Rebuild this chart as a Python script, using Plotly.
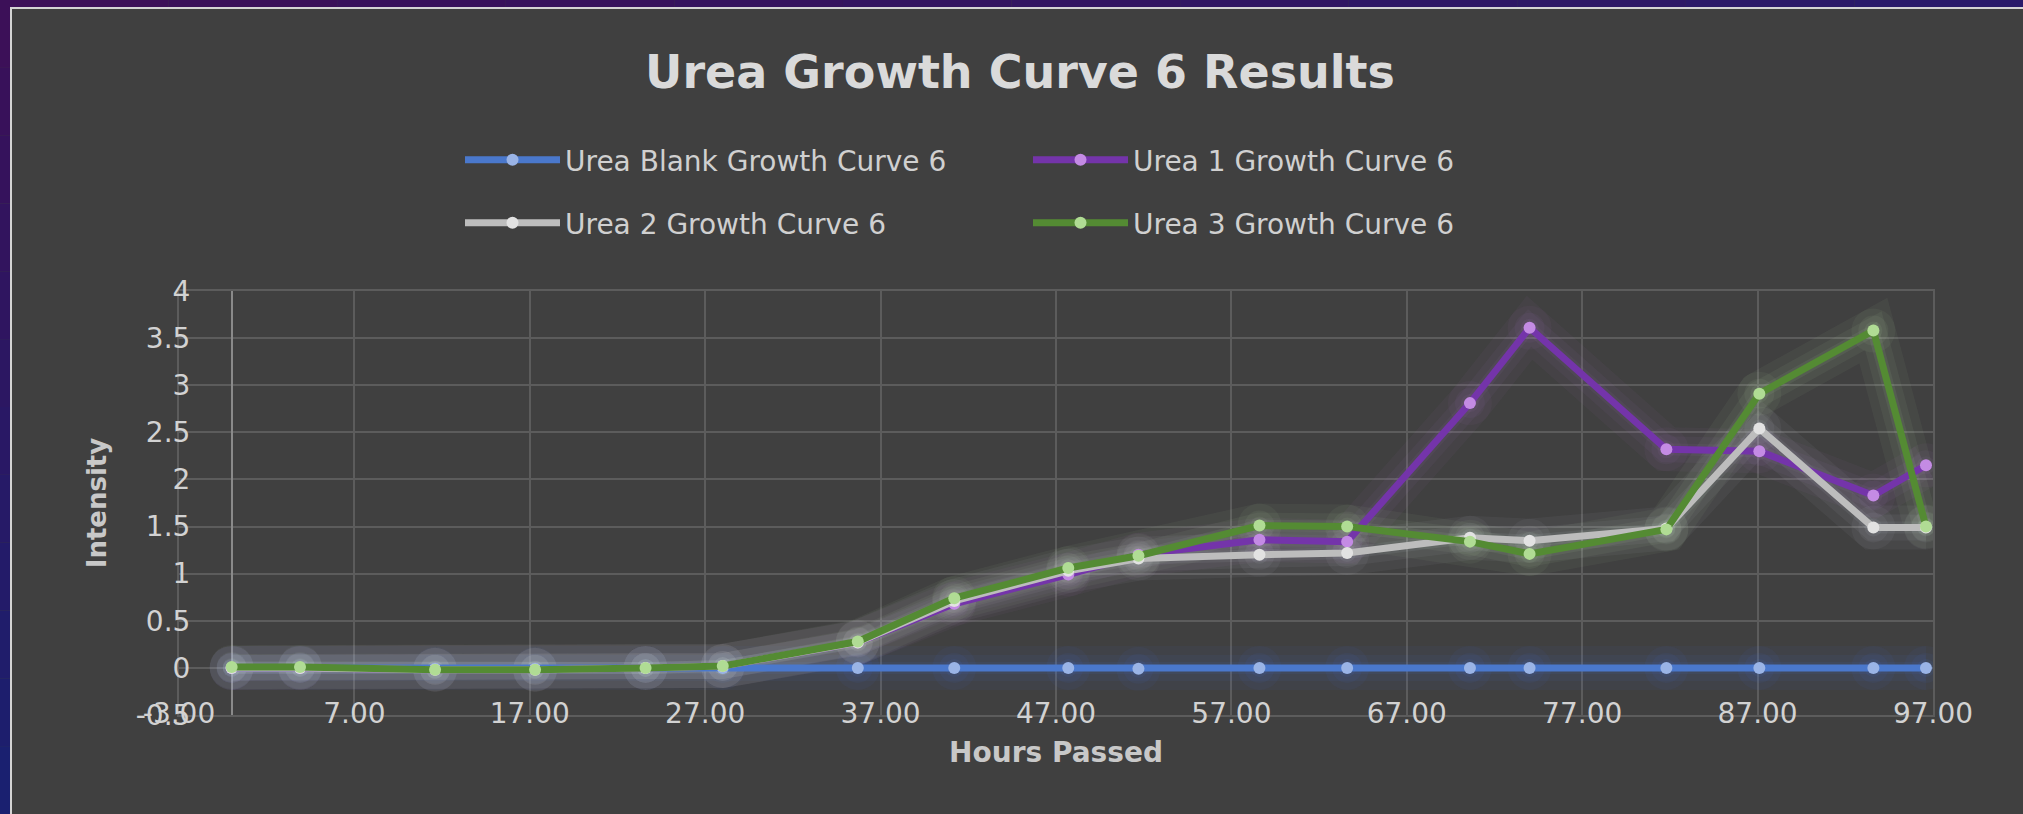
import plotly.graph_objects as go

# ---------------- data ----------------
hours = [0.0, 3.9, 11.6, 17.3, 23.6, 28.0, 35.7, 41.2, 47.7, 51.7,
         58.6, 63.6, 70.6, 74.0, 81.8, 87.1, 93.6, 96.6]

urea_blank = [0.0, 0.0, -0.01, -0.01, 0.0, 0.0, 0.0, 0.0, 0.0, -0.01,
              0.0, 0.0, 0.0, 0.0, 0.0, 0.0, 0.0, 0.0]
urea_1 = [0.0, 0.0, -0.02, -0.02, 0.0, 0.02, 0.27, 0.68, 0.99, 1.20,
          1.36, 1.34, 2.81, 3.61, 2.32, 2.30, 1.83, 2.15]
urea_2 = [0.0, 0.0, -0.02, -0.02, 0.0, 0.02, 0.27, 0.71, 1.03, 1.16,
          1.20, 1.22, 1.38, 1.35, 1.48, 2.54, 1.49, 1.49]
urea_3 = [0.01, 0.01, -0.02, -0.02, 0.0, 0.02, 0.28, 0.74, 1.06, 1.19,
          1.51, 1.50, 1.34, 1.21, 1.47, 2.91, 3.58, 1.50]

series_names = ["Urea Blank Growth Curve 6", "Urea 1 Growth Curve 6",
                "Urea 2 Growth Curve 6", "Urea 3 Growth Curve 6"]

x_tick_vals = [-3, 7, 17, 27, 37, 47, 57, 67, 77, 87, 97]
x_tick_labels = ["-3.00", "7.00", "17.00", "27.00", "37.00", "47.00",
                 "57.00", "67.00", "77.00", "87.00", "97.00"]
y_tick_vals = [-0.5, 0, 0.5, 1, 1.5, 2, 2.5, 3, 3.5, 4]
y_tick_labels = ["-0.5", "0", "0.5", "1", "1.5", "2", "2.5", "3", "3.5", "4"]

title_text = "Urea Growth Curve 6 Results"
x_title = "Hours Passed"
y_title = "Intensity"

# ---------------- styling ----------------
W, H = 2023, 814
ML, MR, MT, MB = 179, 90, 291, 99
PW, PH = W - ML - MR, H - MT - MB

line_colors = ["#4A78CC", "#7434AA", "#BDBDBD", "#548B33"]
marker_colors = ["#9AB4E6", "#C48BE4", "#E2E2E2", "#B0DC94"]
glow_colors = ["70,125,235", "170,125,205", "215,220,235", "200,235,180"]
legend_ids = ["legend", "legend", "legend2", "legend2"]

FONT = "DejaVu Sans"
BG = "#404040"
GRID = "#5C5C5C"

all_series = [urea_blank, urea_1, urea_2, urea_3]

fig = go.Figure()

# soft glow layers underneath
for vals, gc in zip(all_series, glow_colors):
    for width, alpha, msize in [(44, 0.05, 44), (26, 0.06, 30), (12, 0.07, 18)]:
        fig.add_trace(go.Scatter(
            x=hours, y=vals, mode="lines+markers",
            line=dict(color=f"rgba({gc},{alpha})", width=width),
            marker=dict(color=f"rgba({gc},{alpha})", size=msize),
            hoverinfo="skip", showlegend=False))

# main series
for name, vals, lc, mc, lg in zip(series_names, all_series, line_colors,
                                   marker_colors, legend_ids):
    fig.add_trace(go.Scatter(
        x=hours, y=vals, mode="lines+markers", name=name,
        line=dict(color=lc, width=7),
        marker=dict(color=mc, size=12),
        legend=lg))


def px2paper_x(px):
    return (px - ML) / PW


def px2paper_y(py):
    return (MT + PH - py) / PH


# outer purple/blue frame strips
shapes = []
n = 12
top_c = (60, 16, 88)
bot_c = (26, 32, 112)
right_c = (42, 26, 106)
for i in range(n):
    t = i / (n - 1)
    c = tuple(int(top_c[k] + (bot_c[k] - top_c[k]) * t) for k in range(3))
    shapes.append(dict(type="rect", xref="paper", yref="paper",
                       x0=px2paper_x(0), x1=px2paper_x(10),
                       y0=px2paper_y(H * (i + 1) / n), y1=px2paper_y(H * i / n),
                       fillcolor=f"rgb{c}", line=dict(width=0), layer="above"))
    c2 = tuple(int(top_c[k] + (right_c[k] - top_c[k]) * t) for k in range(3))
    shapes.append(dict(type="rect", xref="paper", yref="paper",
                       x0=px2paper_x(W * i / n), x1=px2paper_x(W * (i + 1) / n),
                       y0=px2paper_y(7), y1=px2paper_y(0),
                       fillcolor=f"rgb{c2}", line=dict(width=0), layer="above"))
# light border of chart area
shapes.append(dict(type="rect", xref="paper", yref="paper",
                   x0=px2paper_x(10), x1=px2paper_x(12),
                   y0=px2paper_y(H), y1=px2paper_y(7),
                   fillcolor="#D4D4D4", line=dict(width=0), layer="above"))
shapes.append(dict(type="rect", xref="paper", yref="paper",
                   x0=px2paper_x(10), x1=px2paper_x(W),
                   y0=px2paper_y(9), y1=px2paper_y(7),
                   fillcolor="#D4D4D4", line=dict(width=0), layer="above"))

# legend geometry (Excel-style long line swatches behind native symbols)
LEG_X = [460, 460 + 568]
LEG_Y = [160, 223]
ITEMW = 95
for i, lc in enumerate(line_colors):
    row, col = divmod(i, 2)
    cx = LEG_X[0] + 1 + (ITEMW + 10) / 2 + col * 568
    shapes.append(dict(type="line", xref="paper", yref="paper",
                       x0=px2paper_x(cx - 46), x1=px2paper_x(cx + 46),
                       y0=px2paper_y(LEG_Y[row]), y1=px2paper_y(LEG_Y[row]),
                       line=dict(color=lc, width=6), layer="above"))

legend_common = dict(
    orientation="h", xanchor="left", yanchor="middle",
    font=dict(family=FONT, size=28, color="#D0D0D0"),
    bgcolor="rgba(0,0,0,0)", entrywidth=458, entrywidthmode="pixels",
    itemwidth=ITEMW)

fig.update_layout(
    width=W, height=H,
    margin=dict(l=ML, r=MR, t=MT, b=MB, autoexpand=False),
    paper_bgcolor=BG, plot_bgcolor=BG,
    title=dict(text=f"<b>{title_text}</b>", x=1020 / W, xref="container",
               xanchor="center", y=1 - 72 / H, yref="container",
               yanchor="middle",
               font=dict(family=FONT, size=46, color="#DADADA")),
    legend=dict(x=px2paper_x(LEG_X[0]), y=px2paper_y(LEG_Y[0]), **legend_common),
    legend2=dict(x=px2paper_x(LEG_X[0]), y=px2paper_y(LEG_Y[1]), **legend_common),
    shapes=shapes,
    hovermode=False,
    xaxis=dict(range=[-3, 97], tickmode="array", tickvals=x_tick_vals,
               ticktext=x_tick_labels, showgrid=True, gridcolor=GRID,
               gridwidth=2, zeroline=True, zerolinecolor="#8A8A8A",
               zerolinewidth=2, showline=True, linecolor=GRID, linewidth=2,
               mirror=True, ticks="", ticklabelstandoff=-28,
               tickfont=dict(family=FONT, size=28, color="#D2D2D2"),
               title=dict(text=f"<b>{x_title}</b>", standoff=14,
                          font=dict(family=FONT, size=28, color="#C8C8C8"))),
    yaxis=dict(range=[-0.5, 4], tickmode="array", tickvals=y_tick_vals,
               ticktext=y_tick_labels, showgrid=True, gridcolor=GRID,
               gridwidth=2, zeroline=False, showline=True, linecolor=GRID,
               linewidth=2, mirror=True, ticks="", ticklabelstandoff=-19,
               tickfont=dict(family=FONT, size=28, color="#D2D2D2"),
               title=dict(text=f"<b>{y_title}</b>", standoff=22,
                          font=dict(family=FONT, size=26, color="#C8C8C8"))),
    showlegend=True,
)

fig.write_html(
    "out.html",
    config={"displayModeBar": False},
    post_script="document.body.style.margin='0';"
                "document.body.style.background='#3c1058';",
)
